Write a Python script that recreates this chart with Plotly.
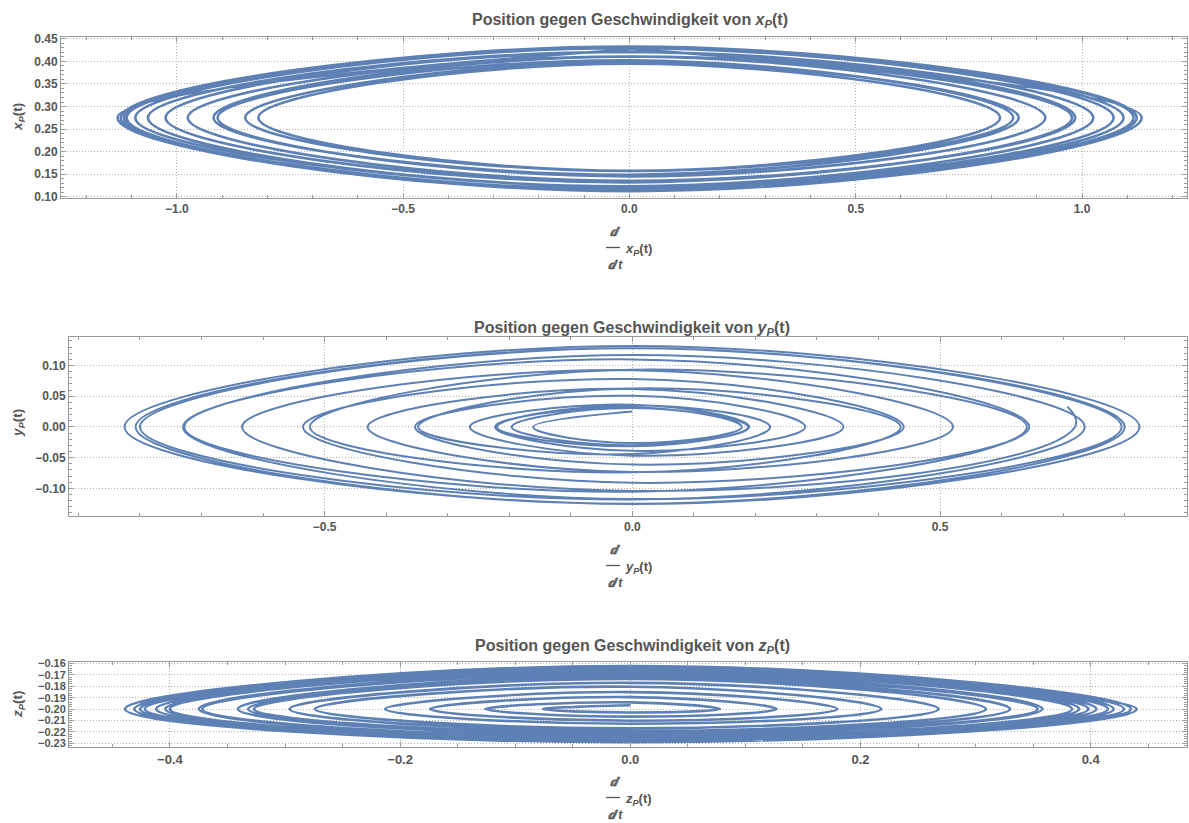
import plotly.graph_objects as go

# ---------------- data ----------------
# Subplot 1: velocity (x) vs position x_P(t); extremes of each loop
XP_MID = 0.275
XP_TOP = [0.427, 0.433, 0.430, 0.421, 0.411, 0.399, 0.395, 0.4025, 0.411, 0.421, 0.4296, 0.433, 0.428]
XP_LEFT = [-1.131, -1.117, -1.092, -1.025, -0.919, -0.849, -0.820, -0.910, -0.976, -1.064, -1.111, -1.124]
XP_BOTTOM = [0.113, 0.116, 0.123, 0.1316, 0.1486, 0.157, 0.157, 0.1448, 0.1348, 0.1216, 0.1147, 0.112]
XP_RIGHT = [1.121, 1.092, 1.025, 0.978, 0.860, 0.819, 0.848, 0.919, 0.985, 1.070, 1.114, 1.132]

# Subplot 2: y_P(t)
YP_MID = 0.0
YP_TOP = [0.025, 0.0321, 0.0507, 0.0781, 0.110, 0.1282, 0.1319, 0.128, 0.117, 0.0932,
          0.0627, 0.0355, 0.0307, 0.0363, 0.0618, 0.0924]
YP_LEFT = [-0.161, -0.223, -0.353, -0.535, -0.730, -0.807, -0.825, -0.800, -0.728, -0.524,
           -0.348, -0.220, -0.196, -0.264, -0.430, -0.634]
YP_BOTTOM = [-0.0261, -0.0388, -0.0611, -0.0909, -0.1174, -0.1256, -0.1251, -0.1182, -0.1054,
             -0.0739, -0.0440, -0.0314, -0.0297, -0.0467, -0.0732, -0.1042]
YP_RIGHT = [0.178, 0.281, 0.441, 0.645, 0.795, 0.824, 0.800, 0.735, 0.641, 0.436,
            0.224, 0.188, 0.190, 0.343, 0.521, 0.719]
YP_END = [0.707, 0.033]

# Subplot 3: z_P(t)
ZP_MID = -0.200
ZP_TOP = [-0.1966, -0.1941, -0.1895, -0.1851, -0.1804, -0.1770, -0.1736, -0.1724, -0.1708,
          -0.1691, -0.1677, -0.1663, -0.1657, -0.1650, -0.1640, -0.1636, -0.1629, -0.1623, -0.1640]
ZP_LEFT = [-0.076, -0.126, -0.174, -0.213, -0.274, -0.296, -0.327, -0.332, -0.341,
           -0.372, -0.375, -0.400, -0.404, -0.412, -0.422, -0.426, -0.431, -0.439]
ZP_BOTTOM = [-0.2030, -0.2066, -0.2102, -0.2129, -0.2169, -0.2192, -0.2210, -0.2221, -0.2225,
             -0.2246, -0.2249, -0.2261, -0.2265, -0.2271, -0.2276, -0.2281, -0.2285, -0.2290]
ZP_RIGHT = [0.078, 0.127, 0.180, 0.218, 0.268, 0.309, 0.330, 0.354, 0.358,
            0.384, 0.390, 0.398, 0.405, 0.415, 0.420, 0.429, 0.435, 0.440]

TITLES = ["Position gegen Geschwindigkeit von <i>x</i><sub><i>P</i></sub>(t)",
          "Position gegen Geschwindigkeit von <i>y</i><sub><i>P</i></sub>(t)",
          "Position gegen Geschwindigkeit von <i>z</i><sub><i>P</i></sub>(t)"]
YLABELS = ["<i>x</i><sub><i>P</i></sub>(t)", "<i>y</i><sub><i>P</i></sub>(t)", "<i>z</i><sub><i>P</i></sub>(t)"]


# ---------------- build trajectories (top -> left -> bottom -> right -> top ...) ----------------
def trajectory(mid, tops, lefts, bottoms, rights):
    xs, ys = [], []
    for k in range(len(lefts)):
        xs += [0.0, lefts[k], 0.0, rights[k]]
        ys += [tops[k], mid, bottoms[k], mid]
    return xs, ys


x1, y1 = trajectory(XP_MID, XP_TOP, XP_LEFT, XP_BOTTOM, XP_RIGHT)
x1.append(0.0); y1.append(XP_TOP[-1])

x2, y2 = trajectory(YP_MID, YP_TOP, YP_LEFT, YP_BOTTOM, YP_RIGHT)
x2.append(YP_END[0]); y2.append(YP_END[1])

x3, y3 = trajectory(ZP_MID, ZP_TOP, ZP_LEFT, ZP_BOTTOM, ZP_RIGHT)
x3.append(0.0); y3.append(ZP_TOP[-1])

W, H = 1189, 823
LINE = "#5E81B5"
FONT = "Liberation Sans, Arial, sans-serif"
GRAY = "#555555"
FRAME = "#9a9a9a"

fig = go.Figure()
fig.add_trace(go.Scatter(x=x1, y=y1, mode="lines", line=dict(color=LINE, width=2.6, shape="spline", smoothing=1.3),
                         xaxis="x", yaxis="y", showlegend=False, hoverinfo="skip"))
fig.add_trace(go.Scatter(x=x2, y=y2, mode="lines", line=dict(color=LINE, width=2.0, shape="spline", smoothing=1.3),
                         xaxis="x2", yaxis="y2", showlegend=False, hoverinfo="skip"))
fig.add_trace(go.Scatter(x=x3, y=y3, mode="lines", line=dict(color=LINE, width=2.6, shape="spline", smoothing=1.3),
                         xaxis="x3", yaxis="y3", showlegend=False, hoverinfo="skip"))


def px_x(p):
    return p / W


def px_y(p):
    return 1 - p / H


def axis(domain, rng, dtick, minor_dtick, fmt, anchor, size=12):
    return dict(domain=domain, range=rng, anchor=anchor, dtick=dtick, tick0=0, tickformat=fmt,
                showline=True, linecolor=FRAME, linewidth=1, mirror="ticks",
                ticks="inside", ticklen=5, tickcolor=FRAME, tickwidth=1,
                showgrid=True, gridcolor="#b0b0b0", griddash="1px,2px", gridwidth=1,
                zeroline=False, automargin=False, fixedrange=True,
                tickfont=dict(family=FONT, size=size, color=GRAY, weight="bold"),
                minor=dict(dtick=minor_dtick, tick0=0, ticks="inside", ticklen=3, tickcolor=FRAME, showgrid=False))


# plot areas in pixels: (left, right, top, bottom)
P1 = (61, 1187, 36.7, 197.7)
P2 = (69, 1187, 337.3, 516.0)
P3 = (69, 1187, 662.3, 747.3)


def dom(P):
    return [px_x(P[0]), px_x(P[1])], [px_y(P[3]), px_y(P[2])]


d1x, d1y = dom(P1); d2x, d2y = dom(P2); d3x, d3y = dom(P3)

fig.update_layout(
    width=W, height=H, margin=dict(l=0, r=0, t=0, b=0),
    paper_bgcolor="white", plot_bgcolor="white",
    xaxis=axis(d1x, [-1.256, 1.232], 0.5, 0.1, ".1f", "y"),
    yaxis=axis(d1y, [0.0975, 0.455], 0.05, 0.01, ".2f", "x"),
    xaxis2=axis(d2x, [-0.9152, 0.9012], 0.5, 0.1, ".1f", "y2"),
    yaxis2=axis(d2y, [-0.145, 0.146], 0.05, 0.01, ".2f", "x2"),
    xaxis3=axis(d3x, [-0.4877, 0.4837], 0.2, 0.05, ".1f", "y3", size=13),
    yaxis3=axis(d3y, [-0.2335, -0.159], 0.01, 0.002, ".2f", "x3", size=11),
)

ann = []
shapes = []
title_y = [21, 328, 646.5]
title_x = [629.5, 632, 632]
ylab_x = [18, 19, 18]
ylab_y = [117, 423, 704]
tick_row = [210, 528, 760]
for i in range(3):
    ann.append(dict(text=TITLES[i], x=px_x(title_x[i]), y=px_y(title_y[i]), xref="paper", yref="paper",
                    xanchor="center", yanchor="middle", showarrow=False,
                    font=dict(family=FONT, size=16, color=GRAY, weight="bold")))
    ann.append(dict(text=YLABELS[i], x=px_x(ylab_x[i]), y=px_y(ylab_y[i]), xref="paper", yref="paper",
                    xanchor="center", yanchor="middle", showarrow=False, textangle=-90,
                    font=dict(family=FONT, size=13.5, color=GRAY, weight="bold")))
    ty = tick_row[i]
    ann.append(dict(text="<i>ⅆ</i>", x=px_x(615), y=px_y(ty + 21.7), xref="paper", yref="paper",
                    xanchor="center", yanchor="middle", showarrow=False,
                    font=dict(family=FONT, size=12, color=GRAY, weight="bold")))
    ann.append(dict(text=YLABELS[i], x=px_x(623), y=px_y(ty + 39.5), xref="paper", yref="paper",
                    xanchor="left", yanchor="middle", showarrow=False,
                    font=dict(family=FONT, size=13, color=GRAY, weight="bold")))
    ann.append(dict(text="<i>ⅆ t</i>", x=px_x(615), y=px_y(ty + 55), xref="paper", yref="paper",
                    xanchor="center", yanchor="middle", showarrow=False,
                    font=dict(family=FONT, size=12, color=GRAY, weight="bold")))
    shapes.append(dict(type="line", xref="paper", yref="paper", x0=px_x(606), x1=px_x(620),
                       y0=px_y(ty + 37.5), y1=px_y(ty + 37.5), line=dict(color=GRAY, width=1.3)))

fig.update_layout(annotations=ann, shapes=shapes)
fig.write_html("out.html")
